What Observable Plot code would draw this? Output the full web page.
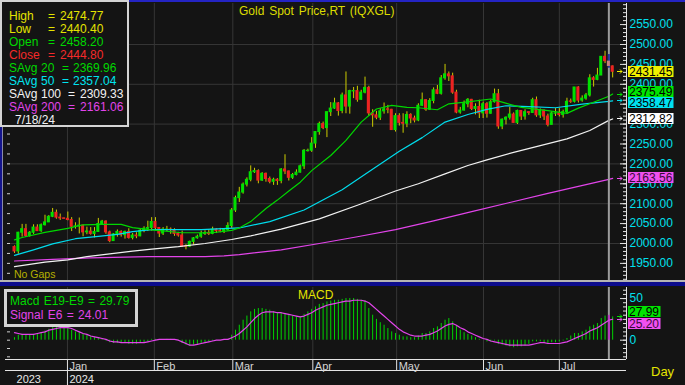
<!DOCTYPE html>
<html>
<head>
<meta charset="utf-8">
<script src="https://cdn.jsdelivr.net/npm/d3@7"></script>
<script src="https://cdn.jsdelivr.net/npm/@observablehq/plot@0.6"></script>
<style>
  html, body { margin: 0; padding: 0; background: #141414; }
  #chart { position: relative; width: 685px; height: 385px; background: #141414; overflow: hidden;
           font-family: "Liberation Sans", Arial, sans-serif; }
  #chart > div, #chart > svg { position: absolute; }
  #chart svg { display: block; }
</style>
</head>
<body>
<div id="chart"></div>
<script>
// ---------- DATA ----------
// Daily OHLC, Gold spot, 12 Dec 2023 .. 19 Jul 2024 (index = trading bar)
const ohlc = [
[1991,1994,1975,1980],[1980,2028,1973,2027],[2027,2048,2016,2036],[2036,2048,2015,2019],[2019,2030,2016,2027],
[2027,2047,2023,2040],[2040,2047,2030,2031],[2031,2049,2028,2046],[2046,2071,2044,2053],[2053,2070,2053,2067],
[2067,2088,2065,2077],[2077,2084,2061,2065],[2065,2074,2058,2063],[2063,2064,2061,2062],[2062,2079,2057,2059],
[2059,2065,2030,2042],[2042,2052,2036,2043],[2043,2064,2024,2045],[2045,2046,2017,2028],[2028,2041,2022,2030],
[2030,2040,2021,2024],[2024,2040,2014,2029],[2029,2063,2028,2049],[2049,2058,2047,2055],[2055,2057,2023,2028],
[2028,2031,2002,2006],[2006,2025,2005,2023],[2023,2034,2016,2029],[2029,2032,2016,2021],[2021,2031,2011,2029],
[2029,2037,2011,2014],[2014,2025,2009,2020],[2020,2027,2012,2018],[2018,2036,2017,2032],[2032,2042,2027,2037],
[2037,2056,2030,2039],[2039,2065,2031,2054],[2054,2065,2032,2039],[2039,2040,2015,2025],[2025,2040,2020,2035],
[2034,2043,2030,2035],[2035,2039,2023,2034],[2034,2037,2018,2024],[2024,2028,2016,2020],[2020,2031,1990,1992],
[1993,1997,1984,1992],[1992,2006,1990,2004],[2004,2015,1996,2013],[2013,2021,2011,2017],[2017,2031,2013,2024],
[2024,2032,2020,2026],[2026,2035,2020,2024],[2024,2041,2022,2035],[2035,2037,2025,2031],[2031,2038,2027,2030],
[2030,2037,2025,2034],[2034,2052,2031,2044],[2044,2088,2038,2083],[2083,2119,2078,2114],[2114,2141,2103,2128],
[2128,2152,2124,2148],[2148,2165,2142,2160],[2160,2195,2155,2179],[2179,2189,2176,2182],[2182,2185,2150,2158],
[2158,2178,2156,2175],[2175,2177,2154,2162],[2162,2167,2150,2155],[2155,2164,2146,2160],[2160,2163,2146,2157],
[2157,2188,2150,2186],[2186,2223,2173,2181],[2181,2182,2157,2165],[2165,2176,2161,2172],[2172,2185,2170,2178],
[2178,2197,2177,2194],[2194,2236,2186,2233],[2232,2237,2230,2233],[2233,2266,2229,2251],[2251,2281,2239,2280],
[2280,2305,2272,2300],[2300,2305,2286,2290],[2290,2330,2266,2330],[2330,2354,2319,2339],[2339,2365,2337,2352],
[2352,2354,2320,2333],[2333,2378,2326,2372],[2372,2431,2326,2344],[2344,2385,2325,2383],[2382,2392,2364,2383],
[2383,2395,2355,2361],[2361,2385,2360,2379],[2379,2418,2376,2391],[2391,2395,2320,2327],[2327,2336,2292,2322],
[2322,2332,2311,2316],[2316,2339,2309,2332],[2332,2353,2325,2337],[2337,2347,2326,2336],[2336,2337,2285,2285],
[2285,2326,2280,2320],[2320,2326,2295,2303],[2303,2326,2277,2301],[2301,2331,2291,2323],[2323,2326,2301,2314],
[2314,2320,2303,2309],[2309,2351,2306,2346],[2346,2378,2344,2360],[2360,2361,2332,2336],[2336,2364,2335,2358],
[2358,2391,2351,2385],[2385,2397,2374,2376],[2376,2422,2373,2415],[2415,2450,2410,2425],[2425,2431,2407,2420],
[2420,2428,2375,2379],[2379,2385,2326,2329],[2329,2342,2325,2334],[2334,2358,2333,2350],[2350,2364,2341,2361],
[2361,2362,2334,2338],[2338,2351,2323,2343],[2343,2360,2314,2327],[2327,2355,2314,2350],[2350,2354,2315,2326],
[2326,2359,2325,2355],[2355,2388,2353,2375],[2375,2387,2287,2294],[2294,2313,2286,2311],[2311,2318,2298,2316],
[2316,2342,2310,2324],[2324,2328,2302,2303],[2303,2335,2299,2333],[2333,2334,2309,2319],[2319,2336,2310,2330],
[2330,2331,2322,2328],[2328,2365,2327,2360],[2360,2368,2317,2322],[2322,2338,2314,2334],[2334,2335,2309,2319],
[2319,2325,2293,2298],[2298,2331,2298,2327],[2326,2339,2319,2327],[2327,2339,2318,2323],[2323,2335,2315,2330],
[2330,2365,2325,2356],[2357,2363,2352,2356],[2356,2392,2353,2392],[2392,2394,2353,2359],[2359,2371,2355,2364],
[2364,2377,2360,2372],[2372,2424,2368,2415],[2415,2419,2393,2411],[2411,2440,2409,2422],[2422,2469,2422,2469],
[2469,2483,2452,2458],[2458.2,2474.77,2440.4,2444.8],[2445,2446,2416,2431.45]
];
// Simple moving averages: [bar index, value]
const sma20 = [[0,2009],[2,2015],[8,2028],[14,2038],[18,2047],[23,2048],[28,2048],[31,2040],[36,2034],[44,2027],
  [52,2027],[57,2033],[59,2039],[62,2055],[66,2088],[69,2109],[72,2132],[75,2154],[78,2183],[83,2221],[87,2259],
  [91,2305],[95,2338],[99,2347],[103,2342],[106,2341],[111,2336],[114,2351],[119,2356],[125,2363],[128,2355],
  [133,2342],[140,2334],[145,2327],[148,2340],[152,2355],[156,2369.96],[157,2375.49]];
const sma50 = [[0,1970],[5,1984],[10,1999],[16,2012],[22,2018],[27,2023],[31,2030],[36,2035],[49,2035],[59,2039],
  [67,2055],[76,2084],[86,2135],[93,2180],[101,2232],[107,2266],[113,2305],[119,2324],[124,2337],[129,2346],
  [135,2344],[142,2341],[149,2350],[156,2357.04],[157,2358.47]];
const sma100 = [[0,1942],[8,1953],[14,1959],[19,1967],[25,1974],[31,1981],[36,1986],[43,1992],[50,2000],[57,2010],
  [62,2019],[70,2036],[80,2062],[90,2096],[100,2132],[106,2150],[113,2175],[119,2196],[124,2210],[131,2229],
  [138,2246],[145,2263],[151,2284],[156,2309.33],[157,2312.82]];
const sma200 = [[0,1956],[10,1960],[20,1964],[35,1967],[50,1967],[55,1969],[59,1972],[70,1984],[80,2000],[90,2017],
  [100,2035],[110,2057],[120,2080],[130,2103],[140,2126],[150,2148],[156,2161.06],[157,2163.56]];
// MACD (E19-E9) histogram and signal (E6), one per bar
const macdVals = [3,6,7,6,6,7,7,9,11,13,15,16,16,16,15,
  12,10,9,7,6,4,3,2,
  1,-1,-3,-4,-4,-4,-4,-5,-5,-5,-4,-3,-2,
  1,1,0,0,1,1,0,-1,
  -4,-6,-7,-6,-5,-4,-3,
  -2,-1,0,0,0,1,
  6,12,18,24,29,34,37,38,38,37,36,34,33,33,32,30,29,28,28,31,34,37,40,43,44,46,
  47,48,48,49,50,50,50,49,48,47,38,30,25,21,18,14,10,8,
  6,4,4,3,3,5,
  8,8,10,14,16,20,24,26,
  22,17,12,9,7,5,3,1,0,
  -2,-2,-1,-5,-6,-7,-8,-9,-8,-8,-7,-5,
  -2,-2,-2,-3,-4,-3,-3,-2,-1,
  2,5,8,8,10,12,16,18,20,26,29,29.79,27.99];
const signalVals = [9,8,7,7,7,7,8,9,10,12,13,14,15,15,15,14,12,10,8,7,5,4,3,2,1,-1,-2,-2,-3,-3,
  -3,-3,-3,-3,-3,-2,-1,0,1,1,1,1,1,0,-2,-4,-6,-6,-5,-4,-3,-2,-1,0,0,1,1,
  3,5,8,12,16,21,26,30,33,34,34,34,33,33,32,31,30,29,28,29,31,33,36,38,40,42,
  43,44,45,46,47,47,48,48,48,47,45,41,37,33,29,25,21,17,13,10,8,6,5,5,
  5,6,7,9,11,14,17,19,20,18,15,13,10,8,6,4,2,1,
  -1,-2,-3,-4,-5,-6,-6,-6,-6,-6,-6,-5,-4,-3,-3,-4,-4,-4,-4,-3,
  -2,0,2,4,6,8,11,13,15,18,21,24.01,25.2];
const cursorIdx = 156;                                   // 7/18/24
const monthLabels = ["Jan","Feb","Mar","Apr","May","Jun","Jul"];
const monthIdx = [13.9, 36.7, 57.3, 78.3, 100.3, 123.1, 143.0];
const yearLabels = ["2023","2024"];
const yearIdx = [0, 13.9];
const priceTicks = [1950,2000,2050,2100,2150,2200,2250,2300,2350,2400,2450,2500,2550];
const gridPrices = [2000,2100,2200,2300,2400,2500];
const macdTicks = [0, 50];
const legendLabels = ["High","Low","Open","Close","SAvg","SAvg","SAvg","SAvg"];
const legendPeriods = ["","","","","20","50","100","200"];
const legendValues = [2474.77, 2440.40, 2458.20, 2444.80, 2369.96, 2357.04, 2309.33, 2161.06];
const legendDate = "7/18/24";
const lastPrice = 2431.45, lastSma = [2375.49, 2358.47, 2312.82, 2163.56];
const macdLegend = [["Macd E19-E9", 29.79], ["Signal E6", 24.01]];
const lastMacd = [27.99, 25.20];

// ---------- STYLE ----------
const C = {grid:"#363636", cyan:"#00e0ee", yellow:"#e4e400", green:"#00d800", red:"#f42a2a",
  white:"#f2f2f2", magenta:"#e244ea", wick:"#cccc00", up:"#00e000", down:"#ee2222", axis:"#e4e4e4"};
const maColors = [C.green, "#00dcec", C.white, C.magenta];
const legendColors = [C.yellow, C.yellow, C.green, C.red, C.green, "#00e4f0", C.white, C.magenta];
const xDomain = [-1.84, 160.63];
const priceDomain = [1907, 2603];
const macdDomain = [-23.2, 63.3];
const font = "'Liberation Sans', Arial, sans-serif";
const baseStyle = {background: "transparent", fontFamily: font, fontSize: "12px", color: "#ddd", overflow: "visible"};

const bars = ohlc.map(([o, h, l, c], i) => ({i, o, h, l, c}));
const normal = bars.filter(d => d.i !== cursorIdx);
const cur = bars.filter(d => d.i === cursorIdx);
const pts = a => a.map(([i, v]) => ({i, v}));
const mdata = macdVals.map((m, i) => ({i, m, s: signalVals[i]}));

// value tags on the right axis (boxes + small arrows), placed with the y scale
function valueTags(tags) {
  return (index, scales, values, dim) => {
    const xr = dim.width - dim.marginRight;
    const H = 11.5;
    const items = tags.map(t => ({...t, y0: scales.y(t.v)})).sort((a, b) => a.y0 - b.y0);
    items.forEach(d => d.yc = d.y0);
    for (let it = 0; it < 40; it++) for (let k = 1; k < items.length; k++) {
      const a = items[k - 1], b = items[k], ov = H - (b.yc - a.yc);
      if (ov > 0) { a.yc -= ov / 2; b.yc += ov / 2; }
    }
    const g = d3.create("svg:g").attr("text-anchor", "start");
    for (const d of items) {
      const txt = d.v.toFixed(2);
      const y0 = Math.round(d.y0) + 0.5;
      g.append("path").attr("d", `M${xr - 9},${y0}h5m-2,-2l2,2l-2,2`).attr("stroke", d.bg).attr("fill", "none");
      g.append("rect").attr("x", xr + 2).attr("y", Math.round(d.yc - 5.5)).attr("width", txt.length * 6.5)
        .attr("height", 11).attr("fill", d.bg);
      g.append("text").attr("x", xr + 3).attr("y", Math.round(d.yc + 4.5)).attr("fill", d.fg)
        .attr("text-anchor", "start").attr("font-size", 12).text(txt);
    }
    return g.node();
  };
}

// ---------- MAIN PRICE PANEL ----------
const mainPlot = Plot.plot({
  width: 685, height: 283, marginLeft: 7, marginRight: 59, marginTop: 3, marginBottom: 3,
  style: baseStyle,
  x: {domain: xDomain, axis: null},
  y: {domain: priceDomain, axis: null},
  marks: [
    Plot.ruleY(gridPrices, {stroke: C.grid}),
    Plot.ruleX(monthIdx, {stroke: C.grid}),
    Plot.ruleY(d3.range(1925, 2601, 25), {stroke: "#cfcfcf", insetRight: 616}),
    Plot.ruleX(normal, {x: "i", y1: "l", y2: "h", stroke: C.wick}),
    Plot.rect(normal, {x1: d => d.i - 0.4, x2: d => d.i + 0.4, y1: "o", y2: "c",
      fill: d => d.c >= d.o ? C.up : C.down, insetTop: -0.5, insetBottom: -0.5}),
    Plot.line(pts(sma200), {x: "i", y: "v", stroke: maColors[3], strokeWidth: 1.2}),
    Plot.line(pts(sma100), {x: "i", y: "v", stroke: maColors[2], strokeWidth: 1.2}),
    Plot.line(pts(sma50), {x: "i", y: "v", stroke: maColors[1], strokeWidth: 1.2}),
    Plot.line(pts(sma20), {x: "i", y: "v", stroke: maColors[0], strokeWidth: 1.2}),
    Plot.ruleX([cursorIdx], {stroke: "#9c9c9c", strokeWidth: 2}),
    Plot.ruleX(cur, {x: "i", y1: "l", y2: "h", stroke: "#22309a", strokeWidth: 2}),
    Plot.rect(cur, {x1: d => d.i - 0.4, x2: d => d.i + 0.4, y1: "o", y2: "c", fill: "#c87c7c"}),
    Plot.ruleX([xDomain[1]], {stroke: C.axis}),
    Plot.ruleY(d3.range(1910, 2601, 10), {stroke: C.axis, insetLeft: 616}),
    Plot.ruleY(priceTicks, {stroke: C.axis, insetLeft: 613}),
    Plot.text(priceTicks, {y: d => d, text: d => d.toFixed(2), frameAnchor: "right", textAnchor: "start",
      dx: 3, fill: C.cyan, fontSize: 12}),
    valueTags([
      {v: lastPrice, bg: "#f0f000", fg: "#000"},
      {v: lastSma[0], bg: "#00e400", fg: "#000"},
      {v: lastSma[1], bg: "#00e0f0", fg: "#000"},
      {v: lastSma[2], bg: "#ffffff", fg: "#000"},
      {v: lastSma[3], bg: "#f050f0", fg: "#3a0a3a"}
    ])
  ]
});

// ---------- MACD PANEL + DATE AXIS ----------
const macdPlot = Plot.plot({
  width: 685, height: 102, marginLeft: 7, marginRight: 59, marginTop: 4, marginBottom: 26,
  style: baseStyle,
  x: {domain: xDomain, axis: null},
  y: {domain: macdDomain, axis: null},
  marks: [
    Plot.ruleX(monthIdx, {stroke: C.grid}),
    Plot.ruleX(mdata.filter(d => d.i !== cursorIdx), {x: "i", y1: 0, y2: "m", stroke: "#00d400"}),
    Plot.ruleX([cursorIdx], {stroke: "#9c9c9c", strokeWidth: 2}),
    Plot.ruleX(mdata.filter(d => d.i === cursorIdx), {x: "i", y1: 0, y2: "m", stroke: "#b838c0", strokeWidth: 2}),
    Plot.line(mdata, {x: "i", y: "s", stroke: C.magenta, strokeWidth: 1.2}),
    Plot.ruleY(d3.range(-20, 61, 10), {stroke: "#cfcfcf", insetRight: 616}),
    Plot.ruleX([xDomain[1]], {stroke: C.axis}),
    Plot.ruleY(d3.range(-20, 61, 5), {stroke: C.axis, insetLeft: 616}),
    Plot.ruleY(macdTicks, {stroke: C.axis, insetLeft: 613}),
    Plot.text(macdTicks, {y: d => d, text: d => String(d), frameAnchor: "right", textAnchor: "start",
      dx: 3, fill: C.cyan, fontSize: 12}),
    valueTags([
      {v: lastMacd[0], bg: "#00e400", fg: "#000"},
      {v: lastMacd[1], bg: "#f050f0", fg: "#3a0a3a"}
    ]),
    // date axis
    Plot.ruleY([macdDomain[0]], {stroke: C.axis, insetLeft: -2}),
    Plot.ruleY([macdDomain[0]], {stroke: C.axis, insetLeft: -2, dy: 11}),
    Plot.ruleX(monthIdx, {stroke: C.axis, insetTop: 72, insetBottom: -11}),
    Plot.ruleX([yearIdx[1]], {stroke: C.axis, insetTop: 83, insetBottom: -26}),
    Plot.text(monthLabels, {x: (d, k) => monthIdx[k], text: d => d, frameAnchor: "bottom", textAnchor: "start",
      lineAnchor: "bottom", dx: 2, dy: 10, fill: "#d4d4d4", fontSize: 11}),
    Plot.text(yearLabels, {x: (d, k) => yearIdx[k], text: d => d, frameAnchor: "bottom", textAnchor: "start",
      lineAnchor: "bottom", dx: 2, dy: 23, fill: "#e8e8e8", fontSize: 11})
  ]
});

// ---------- ASSEMBLE ----------
const chart = d3.select("#chart");
chart.append("div").style("left", "0px").style("top", "0px").node().appendChild(mainPlot);
chart.append("div").style("left", "0px").style("top", "283px").node().appendChild(macdPlot);

// frame decorations
const deco = [
  [129, 0, 556, 2, "#2424c4"],
  [0, 126, 2, 154, "#14148c"], [2, 126, 1, 154, "#8a8aa8"],
  [0, 280, 685, 2, "#b4b4b4"], [0, 282, 685, 4, "#0c0c8c"]
];
for (const [l, t, w, h, c] of deco)
  chart.append("div").style("left", l + "px").style("top", t + "px").style("width", w + "px")
    .style("height", h + "px").style("background", c);

const ov = chart.append("svg").attr("width", 685).attr("height", 385).style("left", "0px").style("top", "0px")
  .style("font-family", font).style("font-size", "12px").attr("xml:space", "preserve");

// title + notes
ov.append("text").attr("x", 239).attr("y", 15).attr("fill", "#dcdc00").style("word-spacing", "1.5px")
  .text("Gold Spot Price,RT (IQXGL)");
ov.append("text").attr("x", 14).attr("y", 278).attr("fill", "#b4b000").attr("font-size", 10.5).text("No Gaps");
ov.append("text").attr("x", 298).attr("y", 299).attr("fill", "#e4e400").text("MACD");
ov.append("text").attr("x", 651).attr("y", 376).attr("fill", "#e4e400").attr("font-size", 13).text("Day");

// main legend box
ov.append("rect").attr("x", 1).attr("y", 1).attr("width", 127).attr("height", 125)
  .attr("fill", "#141414").attr("stroke", "#d4d4d4").attr("stroke-width", 2);
legendLabels.forEach((lab, k) => {
  const y = 20 + 13 * k, p = legendPeriods[k];
  const eqX = p === "" ? 48 : p.length === 2 ? 62 : 68;
  const valX = p === "" ? 60 : p.length === 2 ? 73 : 80;
  const g = ov.append("g").attr("fill", legendColors[k]);
  g.append("text").attr("x", 9).attr("y", y).text(lab);
  if (p) g.append("text").attr("x", 41).attr("y", y).text(p);
  g.append("text").attr("x", eqX).attr("y", y).text("=");
  g.append("text").attr("x", valX).attr("y", y).text(legendValues[k].toFixed(2));
});
ov.append("text").attr("x", 15).attr("y", 124).attr("fill", C.white).text(legendDate);

// MACD legend box
ov.append("rect").attr("x", 5.5).attr("y", 290.5).attr("width", 131).attr("height", 35)
  .attr("fill", "#141414").attr("stroke", "#d4d4d4").attr("stroke-width", 3);
macdLegend.forEach(([lab, v], k) => {
  ov.append("text").attr("x", 10).attr("y", 305 + 13.5 * k).attr("fill", k ? C.magenta : C.green)
    .style("word-spacing", "1px").text(`${lab} = ${v.toFixed(2)}`);
});
</script>
</body>
</html>
